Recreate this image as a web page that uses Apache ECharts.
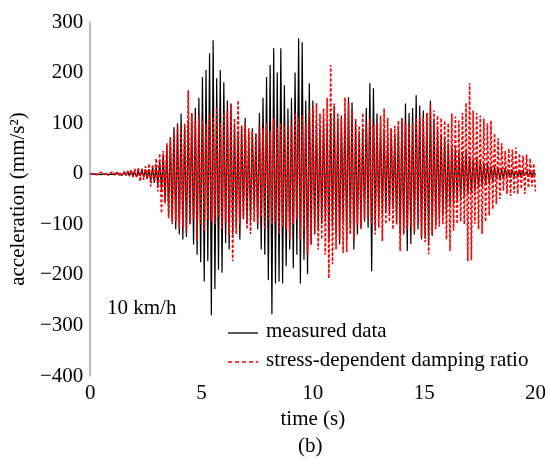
<!DOCTYPE html>
<html>
<head>
<meta charset="utf-8">
<script src="https://cdn.jsdelivr.net/npm/echarts@6/dist/echarts.min.js"></script>
<style>
html,body{margin:0;padding:0;background:#fff;}
#chart{width:549px;height:459px;}
</style>
</head>
<body>
<div id="chart"></div>
<script>
// sample spacing (s) of the digitised records
const DT = 0.08;
const seriesNames = ["measured data", "stress-dependent damping ratio"];
const yTicks = [-400, -300, -200, -100, 0, 100, 200, 300];
const xTicks = [0, 5, 10, 15, 20];

// measured acceleration (mm/s^2), one value every DT seconds from t = 0
const measured = [
  0,1,-1,2,-1,1,-2,1,0,2,
  -2,1,-1,2,-2,3,-2,1,-3,2,
  -2,4,-3,5,-4,3,-6,5,-4,8,
  -6,7,-10,9,-14,12,-18,15,-22,25,
  -30,40,-55,56,-80,72,-95,92,-110,100,
  -120,119,-130,95,-125,105,-100,120,-140,130,
  -160,150,-175,191,-213,205,-173,238,-280,264,
  -228,189,-190,205,-196,181,-137,145,-150,139,
  -120,100,-107,85,-130,95,-90,110,-100,80,
  -95,90,-70,80,-110,120,-150,150,-160,191,
  -210,215,-278,248,-217,200,-213,248,-217,175,
  -183,129,-150,149,-187,200,-160,268,-217,260,
  -170,145,-199,179,-140,145,-120,105,-110,90,
  -100,110,-95,100,-130,120,-105,135,-120,110,
  -140,115,-95,120,-130,151,-110,141,-150,105,
  -120,85,-107,90,-95,130,-107,179,-193,169,
  -110,119,-87,101,-80,85,-75,75,-80,89,
  -70,79,-100,95,-119,110,-120,139,-153,120,
  -139,130,-120,155,-110,135,-130,125,-125,120,
  -139,145,-123,109,-100,90,-90,79,-83,70,
  -80,60,-65,55,-60,50,-55,45,-50,40,
  -45,45,-40,35,-38,30,-35,30,-28,25,
  -25,22,-20,20,-18,15,-16,14,-12,12,
  -12,10,-10,9,-8,8,-8,7,-6,6,
  -6,5,-5,6,-4,5,-4,3,-3,2,
  -2
];

// simulated acceleration with stress-dependent damping ratio (mm/s^2)
const simulated = [
  0,2,-1,1,-2,2,-1,3,-2,2,
  -3,1,-2,4,-3,2,-4,3,-2,5,
  -4,6,-5,8,-7,10,-8,12,-15,10,
  -12,15,-10,20,-25,18,-15,30,-35,40,
  -78,45,-60,60,-88,70,-100,80,-95,95,
  -110,90,-105,100,-119,165,-100,119,-90,105,
  -133,115,-99,105,-113,100,-90,119,-95,110,
  -100,131,-85,100,-110,119,-95,125,-120,139,
  -173,110,-119,145,-100,95,-87,100,-110,90,
  -119,85,-95,80,-100,95,-85,90,-110,100,
  -90,85,-100,110,-95,90,-120,100,-105,95,
  -110,105,-130,95,-100,120,-90,110,-130,115,
  -110,100,-159,125,-140,130,-120,140,-150,119,
  -130,129,-160,150,-207,215,-179,139,-150,120,
  -130,110,-157,151,-155,141,-120,125,-130,110,
  -100,95,-110,120,-90,100,-85,110,-100,95,
  -120,100,-107,115,-133,129,-100,110,-95,90,
  -110,95,-100,105,-153,109,-120,100,-110,95,
  -105,100,-115,110,-100,115,-125,110,-135,120,
  -159,139,-120,125,-110,115,-105,110,-100,105,
  -130,100,-153,119,-113,113,-99,105,-95,120,
  -100,140,-173,179,-171,125,-99,120,-110,115,
  -119,109,-95,100,-83,105,-70,80,-60,70,
  -50,60,-34,45,-40,50,-44,48,-38,52,
  -40,40,-30,36,-40,38,-28,30,-25,20,
  -35
];

const FONT = 'Liberation Serif';
const FS = 21;
const toPairs = arr => arr.map((v, i) => [+(i * DT).toFixed(2), v]);

const chart = echarts.init(document.getElementById('chart'), null, {renderer: 'canvas'});
chart.setOption({
  animation: false,
  backgroundColor: '#fff',
  textStyle: {fontFamily: FONT, color: '#000'},
  grid: {left: 84, right: 9, top: 22, bottom: 83, containLabel: false},
  xAxis: {
    type: 'value',
    min: xTicks[0], max: xTicks[xTicks.length - 1], interval: 5,
    name: 'time (s)', nameLocation: 'middle', nameGap: 31,
    nameTextStyle: {fontFamily: FONT, fontSize: FS, fontWeight: 'normal', color: '#000'},
    axisLine: {show: true, lineStyle: {color: '#a6a6a6', width: 1.5}},
    axisTick: {show: false},
    splitLine: {show: false},
    axisLabel: {fontFamily: FONT, fontSize: FS, color: '#000', margin: 7}
  },
  yAxis: {
    type: 'value',
    min: yTicks[0], max: yTicks[yTicks.length - 1], interval: 100,
    name: 'acceleration (mm/s²)', nameLocation: 'middle', nameGap: 55,
    nameTextStyle: {fontFamily: FONT, fontSize: FS, fontWeight: 'normal', color: '#000'},
    axisLine: {show: true, onZero: false, lineStyle: {color: '#a6a6a6', width: 1.5}},
    axisTick: {show: false},
    splitLine: {show: false},
    axisLabel: {fontFamily: FONT, fontSize: FS, color: '#000', margin: 7,
      formatter: v => String(v).replace('-', '\u2212')}
  },
  legend: {show: false},
  graphic: [
    {type: 'text', left: 107, top: 298,
      style: {text: '10 km/h', font: FS + 'px ' + FONT, fill: '#000'}},
    {type: 'text', left: 298, top: 436,
      style: {text: '(b)', font: FS + 'px ' + FONT, fill: '#000'}},
    {type: 'line', shape: {x1: 228, y1: 333, x2: 258, y2: 333},
      style: {stroke: '#000', lineWidth: 1.3}},
    {type: 'text', left: 266, top: 321,
      style: {text: seriesNames[0], font: FS + 'px ' + FONT, fill: '#000'}},
    {type: 'line', shape: {x1: 228, y1: 362, x2: 258, y2: 362},
      style: {stroke: '#ff0000', lineWidth: 1.3, lineDash: [4, 3]}},
    {type: 'text', left: 266, top: 350,
      style: {text: seriesNames[1], font: FS + 'px ' + FONT, fill: '#000'}}
  ],
  series: [
    {
      name: seriesNames[0], type: 'line', data: toPairs(measured),
      symbol: 'none', z: 2,
      lineStyle: {color: '#000', width: 1.2}, itemStyle: {color: '#000'}
    },
    {
      name: seriesNames[1], type: 'line', data: toPairs(simulated),
      symbol: 'none', z: 3,
      lineStyle: {color: '#ff0000', width: 1.6, type: [3, 2]}, itemStyle: {color: '#ff0000'}
    }
  ]
});
</script>
</body>
</html>
